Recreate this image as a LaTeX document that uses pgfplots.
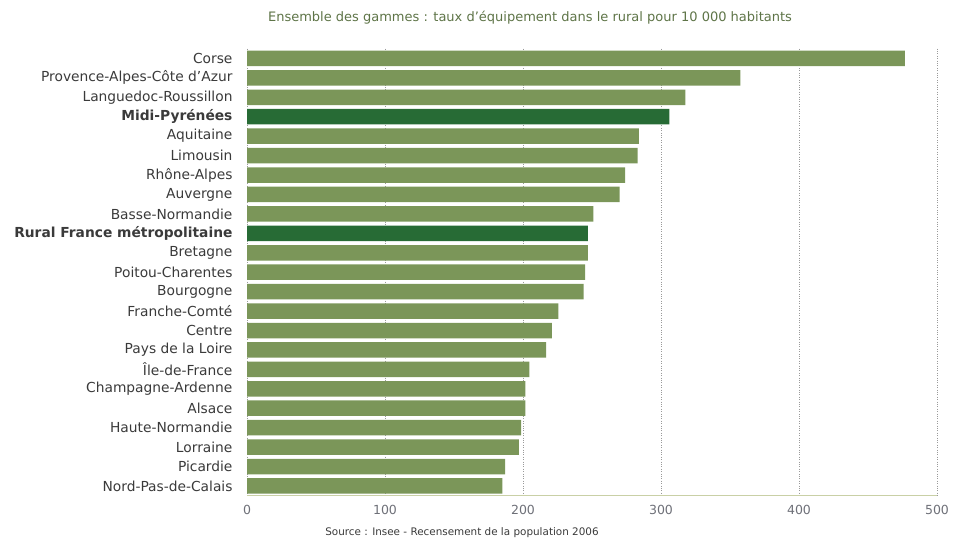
\documentclass[border=0pt]{standalone}
\usepackage{pgfplots}
\pgfplotsset{compat=1.18}
\usepackage{fontspec}
\setmainfont{DejaVu Sans}

\definecolor{barlight}{HTML}{7B9659}
\definecolor{bardark}{HTML}{276B35}
\definecolor{titlecol}{HTML}{5E7447}
\definecolor{labcol}{HTML}{3A3A3A}
\definecolor{tickcol}{HTML}{6E7078}
\definecolor{axiscol}{HTML}{C9D0A6}
\definecolor{gridcol}{HTML}{9A9A9A}

\begin{document}
\begin{tikzpicture}[x=1pt,y=1pt]
  \useasboundingbox (0,0) rectangle (966,545);
  \begin{axis}[
      at={(247pt,49.3pt)}, anchor=south west,
      scale only axis,
      width=690pt, height=447pt,
      xmin=0, xmax=500,
      ymin=-0.5, ymax=22.5,
      y dir=reverse,
      xtick={0,100,200,300,400,500},
      ytick={0,...,22},
      yticklabels={Corse, Provence-Alpes-Côte d'Azur, Languedoc-Roussillon,
        \textbf{Midi-Pyrénées}, Aquitaine, Limousin, Rhône-Alpes, Auvergne,
        Basse-Normandie, \textbf{Rural France métropolitaine}, Bretagne,
        Poitou-Charentes, Bourgogne, Franche-Comté, Centre, Pays de la Loire,
        Île-de-France, Champagne-Ardenne, Alsace, Haute-Normandie, Lorraine,
        Picardie, Nord-Pas-de-Calais},
      major tick length=0pt,
      axis lines*=left,
      y axis line style={draw=none},
      x axis line style={draw=axiscol, line width=1.2pt, -},
      xmajorgrids,
      major grid style={gridcol, dotted, line width=0.8pt},
      yticklabel style={font=\fontsize{13.8}{15}\selectfont, text=labcol, anchor=east, xshift=-11pt},
      xticklabel style={font=\fontsize{12.5}{14}\selectfont, text=tickcol, yshift=-6pt},
      /pgf/number format/assume math mode=true,
      xbar, bar width=15.5pt, bar shift=0pt,
    ]
    \addplot[draw=none, fill=barlight] coordinates {
      (476.8,0) (357.5,1) (317.6,2) (284,4) (283,5) (274,6) (270,7)
      (251,8) (247,10) (245,11) (244,12) (225.6,13) (221,14) (216.7,15)
      (204.6,16) (201.7,17) (201.7,18) (198.6,19) (197,20) (187,21) (185,22)
    };
    \addplot[draw=none, fill=bardark] coordinates {
      (306,3) (247,9)
    };
    \node[anchor=west, font=\fontsize{10.5}{12}\selectfont, text=tickcol, inner sep=1pt]
      at (axis cs:500,22) {\%oo};
  \end{axis}
  \node[font=\fontsize{13}{15}\selectfont, text=titlecol] at (530,527) {Ensemble des gammes : taux d’équipement dans le rural pour 10 000 habitants};
  \node[font=\fontsize{10.4}{12}\selectfont, text=labcol] at (462,12) {Source : Insee - Recensement de la population 2006};
\end{tikzpicture}
\end{document}
